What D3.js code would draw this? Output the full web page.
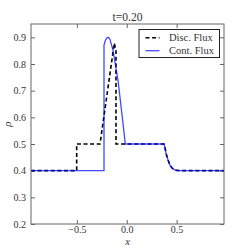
<!DOCTYPE html>
<html><head><meta charset="utf-8">
<script src="https://cdn.jsdelivr.net/npm/d3@7"></script>
<style>body{margin:0;background:#fff}svg{display:block}text{font-family:"Liberation Serif","DejaVu Serif",serif;fill:#333}</style>
</head><body>
<div id="chart"></div>
<script>
const title = "t=0.20";
const seriesNames = ["Disc. Flux", "Cont. Flux"];
const discX = [-0.96, -0.502, -0.502, -0.268, -0.125, -0.111, -0.108, -0.108, 0.373, 0.384, 0.394, 0.414, 0.434, 0.454, 0.474, 0.5, 0.54, 0.975];
const discY = [0.4, 0.4, 0.5, 0.5, 0.878, 0.855, 0.85, 0.5, 0.5, 0.485, 0.465, 0.44, 0.42, 0.41, 0.404, 0.401, 0.4, 0.4];
const contX = [-0.96, -0.228, -0.228, -0.213, -0.198, -0.188, -0.178, -0.168, -0.138, -0.088, -0.038, -0.015, 0.373, 0.384, 0.394, 0.414, 0.434, 0.454, 0.474, 0.5, 0.54, 0.975];
const contY = [0.4, 0.4, 0.871, 0.89, 0.898, 0.9, 0.898, 0.892, 0.852, 0.74, 0.579, 0.5, 0.5, 0.485, 0.465, 0.44, 0.42, 0.41, 0.404, 0.401, 0.4, 0.4];
const xTicks = [-0.5, 0.0, 0.5];
const yTicks = [0.2, 0.3, 0.4, 0.5, 0.6, 0.7, 0.8, 0.9];

const W = 249, H = 249;
const L = 31, R = 224, T = 24, B = 224;
const svg = d3.select("#chart").append("svg").attr("width", W).attr("height", H);
const x = d3.scaleLinear().domain([-0.96, 0.975]).range([L, R]);
const y = d3.scaleLinear().domain([0.2, 0.95]).range([B, T]);

const frameColor = "#666";
const gx = svg.append("g").attr("transform", `translate(0,${B})`)
  .call(d3.axisBottom(x).tickValues(xTicks).tickSizeInner(-4).tickSizeOuter(0).tickPadding(2).tickFormat(d3.format(".1f")));
const gxt = svg.append("g").attr("transform", `translate(0,${T})`)
  .call(d3.axisTop(x).tickValues(xTicks).tickSizeInner(-4).tickSizeOuter(0).tickFormat(""));
const gy = svg.append("g").attr("transform", `translate(${L},0)`)
  .call(d3.axisLeft(y).tickValues(yTicks).tickSizeInner(-4).tickSizeOuter(0).tickPadding(5).tickFormat(d3.format(".1f")));
const gyr = svg.append("g").attr("transform", `translate(${R},0)`)
  .call(d3.axisRight(y).tickValues(yTicks).tickSizeInner(-4).tickSizeOuter(0).tickFormat(""));
[gx, gxt, gy, gyr].forEach(g => {
  g.select(".domain").remove();
  g.selectAll(".tick line").attr("stroke", frameColor);
  g.selectAll(".tick text").attr("font-size", 10).attr("font-family", "Liberation Serif, serif").attr("fill", "#444");
});
gx.selectAll(".tick text").text(d => d < 0 ? "\u2212" + d3.format(".1f")(-d) : d3.format(".1f")(d));

const line = d3.line().x(d => x(d[0])).y(d => y(d[1]));
const discData = discX.map((v, i) => [v, discY[i]]);
const contData = contX.map((v, i) => [v, contY[i]]);

svg.append("defs").append("clipPath").attr("id", "clip").append("rect")
  .attr("x", L).attr("y", T).attr("width", R - L).attr("height", B - T);
const plot = svg.append("g").attr("clip-path", "url(#clip)");
plot.append("path").datum(discData).attr("d", line).attr("fill", "none")
  .attr("stroke", "#000").attr("stroke-width", 1.6).attr("stroke-dasharray", "4,2.6");
plot.append("path").datum(contData).attr("d", line).attr("fill", "none")
  .attr("stroke", "#0000ff").attr("stroke-opacity", 0.72).attr("stroke-width", 1.3);

svg.append("rect").attr("x", L).attr("y", T).attr("width", R - L).attr("height", B - T)
  .attr("fill", "none").attr("stroke", frameColor).attr("stroke-width", 1);

svg.append("text").attr("x", (L + R) / 2).attr("y", 20.5).attr("text-anchor", "middle")
  .attr("font-size", 11.5).attr("fill", "#222").text(title);
svg.append("text").attr("x", (L + R) / 2).attr("y", 245).attr("text-anchor", "middle")
  .attr("font-size", 10.5).attr("font-style", "italic").attr("fill", "#333").text("x");
svg.append("text").attr("transform", `translate(11,${(T + B) / 2}) rotate(-90)`).attr("text-anchor", "middle")
  .attr("font-size", 11).attr("font-style", "italic").attr("fill", "#333").text("\u03c1");

const lg = svg.append("g");
lg.append("rect").attr("x", 139).attr("y", 29.5).attr("width", 80.5).attr("height", 28)
  .attr("fill", "#fff").attr("stroke", "#222").attr("stroke-width", 1);
const items = [
  {name: seriesNames[0], color: "#000", dash: "4,2.6", op: 1, w: 1.6},
  {name: seriesNames[1], color: "#0000ff", dash: null, op: 0.72, w: 1.3}
];
items.forEach((it, i) => {
  const yy = 37.7 + i * 13;
  lg.append("line").attr("x1", 145.5).attr("x2", 159.5).attr("y1", yy).attr("y2", yy)
    .attr("stroke", it.color).attr("stroke-width", it.w).attr("stroke-opacity", it.op)
    .attr("stroke-dasharray", it.dash);
  lg.append("text").attr("x", 169).attr("y", yy + 3.5).attr("font-size", 10.5).attr("fill", "#222").text(it.name);
});
</script>
</body></html>
